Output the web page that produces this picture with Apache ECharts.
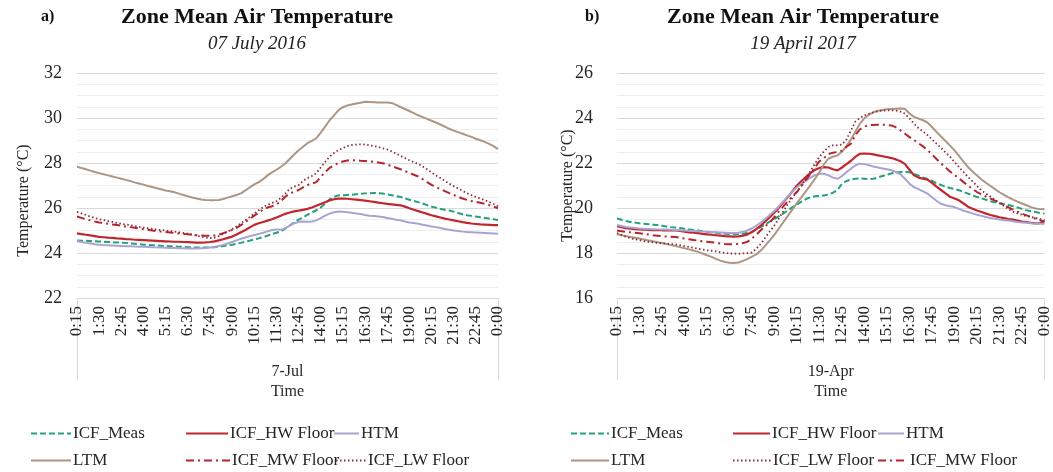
<!DOCTYPE html>
<html>
<head>
<meta charset="utf-8">
<script src="https://cdn.jsdelivr.net/npm/echarts/dist/echarts.min.js"></script>
<style>
  html, body { margin: 0; padding: 0; background: #ffffff; }
  #chart { width: 1053px; height: 472px; }
</style>
</head>
<body>
<div id="chart"></div>
<script>
// 15-minute time stamps from 0:15 to 0:00 (next day)
const times = [];
for (let i = 1; i <= 96; i++) {
  const m = (i * 15) % 1440;
  times.push(Math.floor(m / 60) + ':' + String(m % 60).padStart(2, '0'));
}

const dayJul = ['7-Jul'];
const dayApr = ['19-Apr'];
const yTicksJul = { min: 22, max: 32, step: 2 };
const yTicksApr = { min: 16, max: 26, step: 2 };

// 07 July 2016 (°C)
const julMeas = [24.56,24.55,24.54,24.53,24.52,24.51,24.50,24.49,24.48,24.47,24.46,24.45,24.43,24.41,24.39,24.37,24.36,24.35,24.34,24.32,24.31,24.30,24.29,24.28,24.27,24.26,24.25,24.25,24.24,24.24,24.25,24.26,24.28,24.31,24.34,24.37,24.41,24.45,24.50,24.55,24.60,24.65,24.71,24.77,24.84,24.90,24.96,25.08,25.22,25.36,25.48,25.58,25.70,25.80,25.90,26.02,26.20,26.38,26.50,26.56,26.57,26.58,26.59,26.61,26.63,26.65,26.66,26.67,26.66,26.64,26.61,26.57,26.53,26.49,26.43,26.37,26.31,26.26,26.20,26.13,26.06,26.01,25.96,25.92,25.89,25.84,25.78,25.72,25.68,25.65,25.62,25.59,25.56,25.53,25.50,25.47];
const julHW = [24.87,24.84,24.81,24.78,24.75,24.72,24.70,24.68,24.67,24.65,24.64,24.62,24.61,24.59,24.58,24.57,24.56,24.55,24.54,24.53,24.52,24.51,24.50,24.50,24.49,24.48,24.47,24.46,24.46,24.47,24.49,24.52,24.56,24.61,24.67,24.73,24.82,24.92,25.02,25.14,25.25,25.32,25.38,25.44,25.50,25.58,25.66,25.74,25.80,25.85,25.88,25.92,25.96,26.02,26.10,26.18,26.26,26.34,26.39,26.42,26.42,26.41,26.39,26.37,26.35,26.33,26.30,26.27,26.24,26.21,26.18,26.16,26.14,26.12,26.06,25.99,25.92,25.86,25.80,25.74,25.68,25.63,25.58,25.53,25.49,25.45,25.41,25.37,25.34,25.31,25.29,25.27,25.26,25.25,25.24,25.24];
const julHTM = [24.53,24.49,24.45,24.42,24.39,24.37,24.35,24.34,24.33,24.32,24.31,24.30,24.30,24.29,24.28,24.28,24.27,24.26,24.25,24.24,24.23,24.22,24.22,24.21,24.21,24.20,24.20,24.20,24.21,24.22,24.24,24.27,24.31,24.36,24.42,24.49,24.56,24.63,24.69,24.75,24.80,24.85,24.90,24.96,25.02,25.05,25.03,25.10,25.22,25.32,25.38,25.40,25.39,25.40,25.45,25.55,25.66,25.75,25.81,25.84,25.83,25.81,25.79,25.76,25.73,25.69,25.66,25.64,25.62,25.60,25.56,25.52,25.48,25.45,25.40,25.36,25.33,25.30,25.26,25.22,25.18,25.15,25.11,25.07,25.03,25.00,24.98,24.95,24.93,24.92,24.91,24.90,24.89,24.88,24.87,24.86];
const julLTM = [27.83,27.78,27.72,27.66,27.60,27.55,27.50,27.45,27.40,27.35,27.30,27.25,27.20,27.14,27.09,27.04,26.98,26.93,26.88,26.83,26.78,26.74,26.70,26.64,26.58,26.52,26.47,26.42,26.38,26.36,26.35,26.35,26.36,26.40,26.46,26.52,26.58,26.65,26.78,26.92,27.05,27.15,27.28,27.45,27.58,27.70,27.83,27.98,28.18,28.38,28.57,28.72,28.88,28.98,29.10,29.35,29.62,29.90,30.12,30.35,30.48,30.56,30.60,30.64,30.68,30.72,30.71,30.70,30.69,30.69,30.69,30.67,30.58,30.49,30.40,30.31,30.22,30.12,30.04,29.96,29.88,29.80,29.71,29.62,29.52,29.44,29.37,29.30,29.23,29.16,29.08,29.01,28.94,28.85,28.75,28.62];
const julMW = [25.62,25.56,25.50,25.45,25.40,25.36,25.33,25.30,25.27,25.24,25.21,25.18,25.15,25.12,25.09,25.06,25.03,25.00,24.97,24.95,24.93,24.91,24.89,24.87,24.85,24.83,24.81,24.79,24.78,24.77,24.77,24.78,24.82,24.88,24.95,25.03,25.12,25.24,25.38,25.52,25.66,25.80,25.93,26.02,26.08,26.15,26.30,26.50,26.65,26.72,26.80,26.92,27.02,27.08,27.15,27.38,27.60,27.78,27.90,28.00,28.07,28.11,28.13,28.12,28.10,28.09,28.07,28.05,28.02,27.99,27.93,27.86,27.79,27.72,27.64,27.56,27.48,27.40,27.28,27.15,27.03,26.93,26.84,26.75,26.66,26.58,26.50,26.42,26.36,26.31,26.27,26.23,26.19,26.13,26.06,25.99];
const julLW = [25.83,25.76,25.69,25.62,25.56,25.50,25.46,25.42,25.38,25.34,25.30,25.27,25.24,25.20,25.16,25.13,25.10,25.07,25.04,25.02,25.00,24.97,24.95,24.92,24.89,24.86,24.82,24.77,24.73,24.69,24.66,24.68,24.75,24.85,24.95,25.06,25.18,25.32,25.46,25.60,25.75,25.90,26.04,26.15,26.22,26.30,26.45,26.64,26.85,26.95,27.02,27.20,27.33,27.42,27.55,27.80,28.05,28.28,28.45,28.57,28.67,28.75,28.80,28.82,28.83,28.82,28.79,28.75,28.71,28.65,28.60,28.52,28.42,28.32,28.22,28.12,28.04,27.96,27.85,27.72,27.58,27.45,27.33,27.21,27.08,26.97,26.87,26.76,26.66,26.57,26.49,26.42,26.35,26.27,26.18,26.08];

// 19 April 2017 (°C)
const aprMeas = [19.53,19.48,19.42,19.38,19.35,19.32,19.30,19.28,19.26,19.24,19.21,19.18,19.15,19.13,19.11,19.08,19.05,19.02,19.00,18.97,18.94,18.92,18.90,18.88,18.86,18.84,18.83,18.84,18.86,18.90,18.95,19.05,19.16,19.28,19.40,19.52,19.64,19.76,19.90,20.04,20.16,20.28,20.40,20.48,20.52,20.54,20.56,20.60,20.68,20.80,21.08,21.20,21.26,21.30,21.32,21.30,21.28,21.30,21.36,21.42,21.48,21.54,21.58,21.60,21.60,21.59,21.52,21.44,21.36,21.29,21.20,21.10,21.02,20.95,20.89,20.84,20.79,20.72,20.64,20.56,20.49,20.43,20.37,20.30,20.25,20.21,20.17,20.13,20.08,20.02,19.96,19.90,19.86,19.82,19.78,19.75];
const aprHW = [19.19,19.15,19.10,19.08,19.06,19.05,19.04,19.03,19.02,19.02,19.01,19.01,19.00,19.00,18.98,18.95,18.92,18.90,18.88,18.85,18.83,18.81,18.79,18.77,18.75,18.74,18.73,18.74,18.77,18.83,18.93,19.07,19.23,19.41,19.60,19.80,20.02,20.26,20.50,20.75,21.00,21.20,21.38,21.55,21.70,21.78,21.82,21.80,21.72,21.67,21.80,21.95,22.10,22.28,22.41,22.42,22.41,22.38,22.34,22.30,22.26,22.22,22.16,22.08,21.95,21.70,21.45,21.35,21.30,21.26,21.12,20.95,20.80,20.65,20.50,20.42,20.34,20.20,20.06,19.97,19.89,19.82,19.75,19.69,19.64,19.59,19.55,19.51,19.48,19.44,19.40,19.37,19.34,19.32,19.33,19.42];
const aprHTM = [19.24,19.20,19.16,19.13,19.11,19.09,19.08,19.07,19.06,19.05,19.04,19.04,19.03,19.02,19.01,19.00,18.99,18.98,18.97,18.95,18.94,18.93,18.92,18.91,18.90,18.89,18.89,18.90,18.94,19.00,19.10,19.22,19.36,19.52,19.70,19.88,20.08,20.30,20.52,20.73,20.92,21.08,21.22,21.35,21.46,21.52,21.52,21.45,21.35,21.30,21.42,21.60,21.75,21.90,21.97,21.95,21.90,21.84,21.80,21.76,21.72,21.68,21.60,21.50,21.30,21.08,20.93,20.84,20.74,20.64,20.48,20.32,20.19,20.12,20.08,20.04,19.96,19.88,19.82,19.76,19.70,19.65,19.60,19.56,19.52,19.49,19.46,19.44,19.41,19.38,19.36,19.34,19.32,19.31,19.30,19.30];
const aprLTM = [18.83,18.79,18.75,18.71,18.68,18.64,18.60,18.56,18.52,18.48,18.44,18.40,18.35,18.31,18.26,18.21,18.16,18.11,18.05,17.98,17.90,17.83,17.74,17.66,17.60,17.57,17.56,17.58,17.65,17.74,17.84,17.95,18.12,18.34,18.57,18.82,19.10,19.38,19.66,19.94,20.22,20.48,20.75,21.02,21.30,21.60,21.95,22.20,22.28,22.34,22.50,22.75,23.05,23.40,23.75,24.00,24.15,24.26,24.32,24.36,24.39,24.40,24.41,24.42,24.40,24.20,24.05,23.98,23.90,23.80,23.60,23.38,23.18,22.98,22.77,22.56,22.32,22.06,21.82,21.62,21.44,21.27,21.12,20.98,20.84,20.70,20.58,20.47,20.37,20.28,20.20,20.12,20.04,19.98,19.95,19.94];
const aprMW = [19.00,18.97,18.94,18.92,18.90,18.88,18.85,18.82,18.79,18.77,18.75,18.73,18.72,18.71,18.68,18.64,18.61,18.58,18.55,18.52,18.50,18.48,18.45,18.42,18.40,18.39,18.39,18.40,18.44,18.50,18.65,18.82,19.02,19.20,19.36,19.60,19.86,20.08,20.31,20.52,20.72,20.98,21.25,21.52,21.80,22.08,22.22,22.40,22.46,22.49,22.55,22.72,22.86,23.25,23.50,23.62,23.68,23.69,23.70,23.70,23.69,23.67,23.58,23.45,23.30,23.15,23.02,22.88,22.74,22.58,22.38,22.18,21.98,21.80,21.62,21.46,21.32,21.15,21.00,20.85,20.71,20.61,20.51,20.42,20.33,20.24,20.14,20.03,19.93,19.84,19.75,19.67,19.60,19.53,19.46,19.39];
const aprLW = [18.89,18.80,18.72,18.66,18.61,18.57,18.53,18.50,18.47,18.45,18.43,18.41,18.40,18.38,18.35,18.31,18.27,18.23,18.19,18.15,18.12,18.10,18.07,18.03,18.00,17.98,17.97,17.97,17.98,17.99,18.02,18.20,18.42,18.70,18.97,19.23,19.55,19.87,20.19,20.46,20.73,21.00,21.32,21.65,21.97,22.28,22.52,22.72,22.78,22.78,22.82,23.05,23.45,23.85,24.00,24.12,24.19,24.25,24.30,24.33,24.34,24.34,24.33,24.28,24.19,23.98,23.75,23.55,23.40,23.24,23.05,22.86,22.67,22.47,22.28,22.05,21.82,21.60,21.38,21.18,20.98,20.78,20.64,20.50,20.36,20.22,20.08,19.95,19.84,19.76,19.70,19.64,19.60,19.56,19.51,19.46];

const FONT = '"Liberation Serif", "DejaVu Serif", serif';
const INK = '#262626';
const GRID_LINE = '#d9d9d9';

// line appearance per series name
const styles = {
  'ICF_Meas':     { color: '#23a17a', width: 2,   type: [6, 3] },
  'ICF_HW Floor': { color: '#c0272d', width: 2.2, type: 'solid' },
  'HTM':          { color: '#a9a3d2', width: 2,   type: 'solid' },
  'LTM':          { color: '#ad9684', width: 2,   type: 'solid' },
  'ICF_MW Floor': { color: '#b3262e', width: 2,   type: [8, 4, 2, 4] },
  'ICF_LW Floor': { color: '#8c2a36', width: 1.8, type: [1.5, 2.5] }
};

function lineSeries(name, data, axisIdx, yIdx) {
  const s = styles[name];
  return {
    name, type: 'line', data,
    xAxisIndex: axisIdx, yAxisIndex: yIdx,
    symbol: 'none', smooth: false,
    lineStyle: { color: s.color, width: s.width, type: s.type },
    itemStyle: { color: s.color },
    emphasis: { disabled: true }
  };
}

function timeAxis(gridIndex) {
  return {
    gridIndex, type: 'category', data: times, boundaryGap: false, position: 'bottom',
    axisLine: { show: false }, axisTick: { show: false },
    axisLabel: { interval: 4, rotate: 90, margin: 8, fontSize: 17, fontFamily: FONT, color: INK },
    splitLine: { show: false }
  };
}

function dayAxis(gridIndex, day) {
  return {
    gridIndex, type: 'category', data: day, boundaryGap: true, position: 'bottom',
    axisLine: { show: true, lineStyle: { color: GRID_LINE, width: 1 } },
    axisTick: { show: true, interval: 0, length: 82, lineStyle: { color: GRID_LINE, width: 1 } },
    axisLabel: { margin: 66, fontSize: 16, fontFamily: FONT, color: INK },
    name: 'Time', nameLocation: 'middle', nameGap: 86, nameMoveOverlap: false,
    nameTextStyle: { fontSize: 16, fontFamily: FONT, color: INK },
    splitLine: { show: false }
  };
}

function tempAxis(gridIndex, ticks, labelMargin, nameGap, namePad) {
  return {
    gridIndex, type: 'value', min: ticks.min, max: ticks.max, interval: ticks.step,
    axisLine: { show: false }, axisTick: { show: false },
    axisLabel: { fontSize: 18, fontFamily: FONT, color: INK, margin: labelMargin },
    splitLine: { lineStyle: { color: GRID_LINE, width: 1 } },
    minorTick: { show: false, splitNumber: 4 },
    minorSplitLine: { show: true, lineStyle: { color: '#eeeeee', width: 1 } },
    name: 'Temperature (°C)', nameLocation: 'middle', nameGap, nameMoveOverlap: false,
    nameTextStyle: { fontSize: 16, fontFamily: FONT, color: INK, padding: namePad }
  };
}

// one legend block per entry so each key sits at its own spot
function legendAt(name, left, top, w) {
  return {
    data: [name], left, top, orient: 'horizontal', padding: 0, itemGap: 0,
    itemWidth: w, itemHeight: 12, selectedMode: false,
    itemStyle: { opacity: 0 },
    textStyle: { fontSize: 17, fontFamily: FONT, color: INK, padding: [0, 0, 0, -3] }
  };
}

const option = {
  animation: false,
  backgroundColor: '#ffffff',
  title: [
    { text: 'a)', left: 41, top: 9, padding: 0, textStyle: { fontSize: 16, fontWeight: 'bold', fontFamily: FONT, color: '#111' } },
    { text: 'Zone Mean Air Temperature', subtext: '07 July 2016', left: 257, top: 6, padding: 0, itemGap: 6, textAlign: 'center',
      textStyle: { fontSize: 22, fontWeight: 'bold', fontFamily: FONT, color: '#111' },
      subtextStyle: { fontSize: 19, fontStyle: 'italic', fontFamily: FONT, color: '#222' } },
    { text: 'b)', left: 585, top: 9, padding: 0, textStyle: { fontSize: 16, fontWeight: 'bold', fontFamily: FONT, color: '#111' } },
    { text: 'Zone Mean Air Temperature', subtext: '19 April 2017', left: 803, top: 6, padding: 0, itemGap: 6, textAlign: 'center',
      textStyle: { fontSize: 22, fontWeight: 'bold', fontFamily: FONT, color: '#111' },
      subtextStyle: { fontSize: 19, fontStyle: 'italic', fontFamily: FONT, color: '#222' } }
  ],
  grid: [
    { left: 77, top: 73, width: 421, height: 225, containLabel: false },
    { left: 617, top: 73, width: 429, height: 225, containLabel: false }
  ],
  xAxis: [timeAxis(0), dayAxis(0, dayJul), timeAxis(1), dayAxis(1, dayApr)],
  yAxis: [tempAxis(0, yTicksJul, 15, 45, [0, 30, 0, 0]), tempAxis(1, yTicksApr, 24, 41, 0)],
  legend: [
    legendAt('ICF_Meas', 30, 425, 40),
    legendAt('ICF_HW Floor', 185, 425, 42),
    legendAt('HTM', 333, 425, 25),
    legendAt('LTM', 30, 452, 40),
    legendAt('ICF_MW Floor', 185, 452, 44),
    legendAt('ICF_LW Floor', 335, 452, 30),
    legendAt('ICF_Meas', 570, 425, 38),
    legendAt('ICF_HW Floor', 732, 425, 37),
    legendAt('HTM', 877, 425, 26),
    legendAt('LTM', 570, 452, 38),
    legendAt('ICF_LW Floor', 732, 452, 38),
    legendAt('ICF_MW Floor', 877, 452, 30)
  ],
  series: [
    lineSeries('ICF_Meas', julMeas, 0, 0),
    lineSeries('ICF_HW Floor', julHW, 0, 0),
    lineSeries('HTM', julHTM, 0, 0),
    lineSeries('LTM', julLTM, 0, 0),
    lineSeries('ICF_MW Floor', julMW, 0, 0),
    lineSeries('ICF_LW Floor', julLW, 0, 0),
    lineSeries('ICF_Meas', aprMeas, 2, 1),
    lineSeries('ICF_HW Floor', aprHW, 2, 1),
    lineSeries('HTM', aprHTM, 2, 1),
    lineSeries('LTM', aprLTM, 2, 1),
    lineSeries('ICF_MW Floor', aprMW, 2, 1),
    lineSeries('ICF_LW Floor', aprLW, 2, 1)
  ]
};

const chart = echarts.init(document.getElementById('chart'), null, { renderer: 'canvas' });
chart.setOption(option);
</script>
</body>
</html>
